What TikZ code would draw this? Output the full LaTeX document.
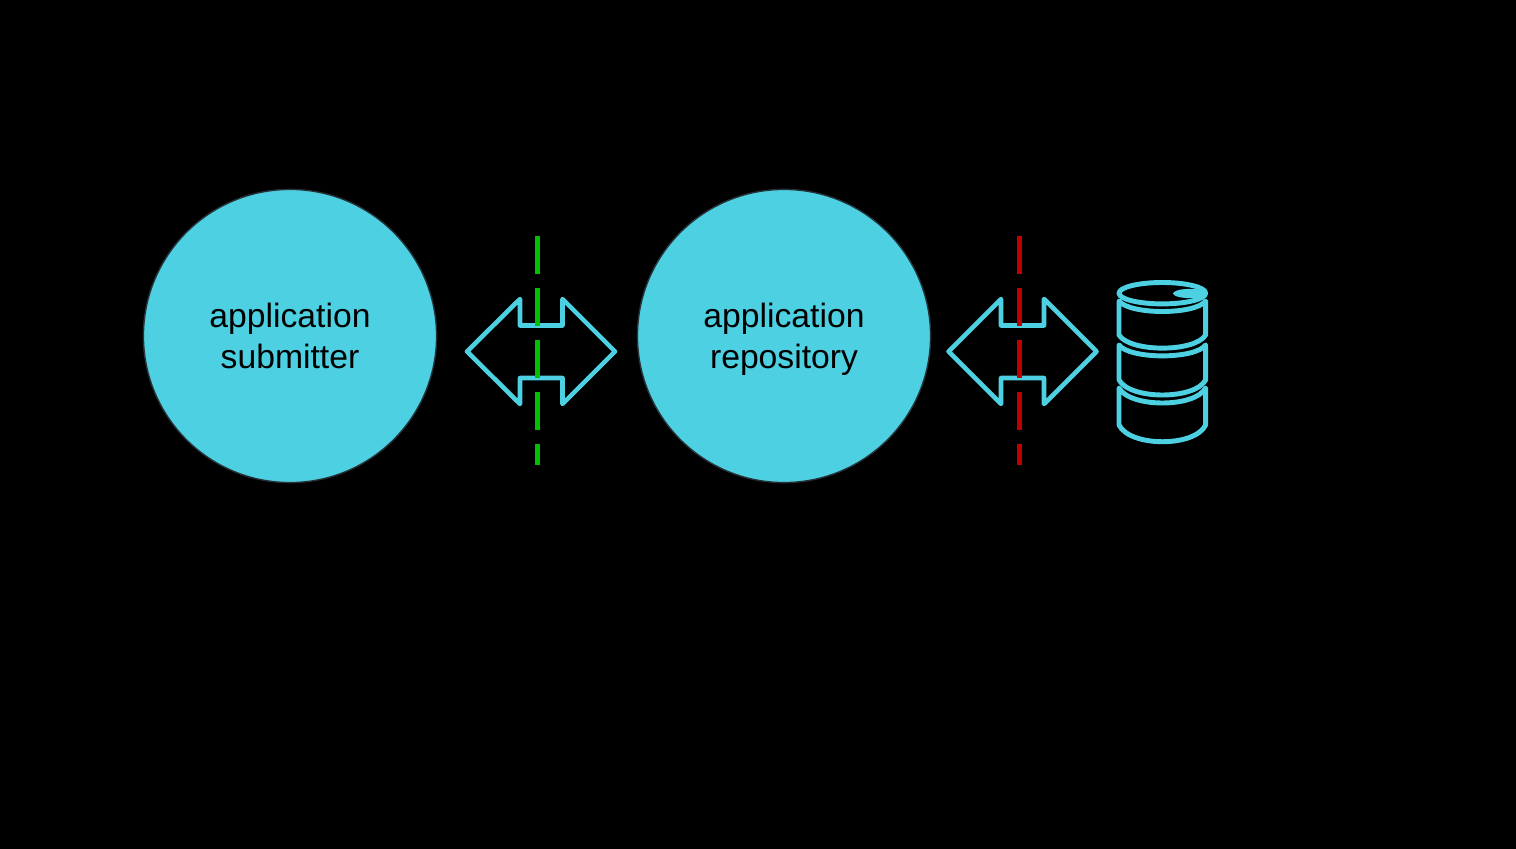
\documentclass[tikz,border=0pt]{standalone}
\usepackage{fontspec}
\setmainfont{Liberation Sans}
\usepackage{xcolor}
\definecolor{tealfill}{HTML}{4DD0E1}
\definecolor{tealedge}{HTML}{263238}
\definecolor{safegreen}{HTML}{00C000}
\definecolor{unsafered}{HTML}{C00000}
\tikzset{
  actor/.style={circle, draw=tealedge, fill=tealfill, line width=0.4pt, minimum size=2.93cm, inner sep=0pt, align=center, font=\fontsize{9.58}{11.66}\selectfont},
  swap/.style={draw=tealfill, line width=1.3pt, line join=round},
  border/.style={line width=1.4pt, dash pattern=on 10.67pt off 4.13pt},
  barrel/.style={draw=tealfill, line width=1.4pt, line join=round}
}

\begin{document}
\begin{tikzpicture}[x=0.01cm, y=-0.01cm]
\useasboundingbox[fill=black] (0,0) rectangle (1516,849);

\node[actor] (submitter) at (290,336) {application\\submitter};
\node[actor] (repository) at (784,336) {application\\\smash{repository}};

% left exchange
\draw[swap] (467,351.5)--(520,299)--(520,325.5)--(562.5,325.5)--(562.5,299)--(615,351.5)
  --(562.5,404)--(562.5,378)--(520,378)--(520,404)--cycle;
\coordinate (green_top) at (537.5,236);
\coordinate (green_bot) at (537.5,465);
\draw[border, safegreen] (green_top)--(green_bot);

% right exchange
\draw[swap] (948.5,351.5)--(1001,299)--(1001,325.5)--(1044,325.5)--(1044,299)--(1096.5,351.5)
  --(1044,404)--(1044,378)--(1001,378)--(1001,404)--cycle;
\coordinate (red_top) at (1019.2,236);
\coordinate (red_bot) at (1019.2,465);
\draw[border, unsafered] (red_top)--(red_bot);

% storage barrel
\draw[barrel] (1162.3,293.2) ellipse (43.3 and 10.7);
\fill[tealfill] (1173,293.5) .. controls (1174,289) and (1192,287) .. (1206,291)
  -- (1206,296) .. controls (1192,300) and (1174,298) .. (1173,293.5) -- cycle;
\draw[barrel] (1119,301) .. controls (1130,315) and (1195,315) .. (1205.6,301)
  -- (1205.6,335) .. controls (1195,352.5) and (1130,352.5) .. (1119,335) -- cycle;
\draw[barrel] (1119,345) .. controls (1130,359.5) and (1195,359.5) .. (1205.6,345)
  -- (1205.6,380) .. controls (1195,400) and (1130,400) .. (1119,380) -- cycle;
\draw[barrel] (1119,388) .. controls (1130,408) and (1195,408) .. (1205.6,388)
  -- (1205.6,425) .. controls (1195,447.3) and (1130,447.3) .. (1119,425) -- cycle;
\end{tikzpicture}
\end{document}
